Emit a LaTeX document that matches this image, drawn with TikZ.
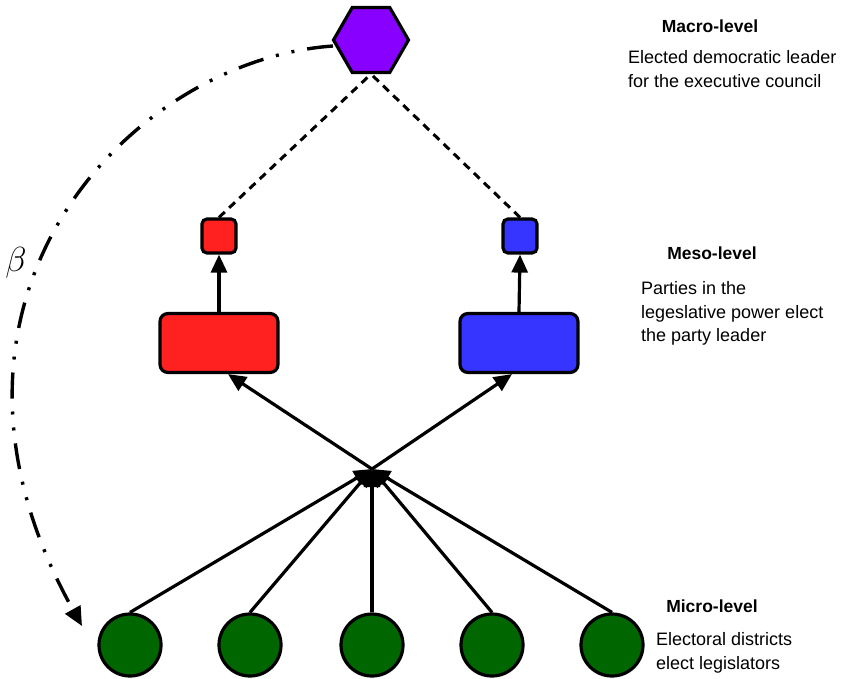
\documentclass[tikz,border=0pt]{standalone}
\usepackage{fontspec}
\setmainfont{Liberation Sans}
\usetikzlibrary{shapes.geometric,arrows.meta}
\definecolor{hexviolet}{HTML}{8800FF}
\definecolor{partyred}{HTML}{FF2020}
\definecolor{partyblue}{HTML}{3535FF}
\definecolor{distgreen}{HTML}{006600}
\begin{document}
\begin{tikzpicture}[x=1pt,y=-1pt,
  hexa/.style={regular polygon,regular polygon sides=6,minimum size=75pt,inner sep=0pt,draw=black,line width=3.2pt,fill=hexviolet},
  smallbox/.style={rectangle,rounded corners=5pt,minimum width=34pt,minimum height=34pt,inner sep=0pt,draw=black,line width=3.2pt},
  bigbox/.style={rectangle,rounded corners=8pt,minimum width=118pt,minimum height=59pt,inner sep=0pt,draw=black,line width=3.2pt},
  district/.style={circle,minimum size=62pt,inner sep=0pt,draw=black,line width=3.2pt,fill=distgreen},
  arr/.style={line width=3.2pt,-{Triangle[length=18pt,width=16pt]}},
  dashline/.style={line width=3pt,dash pattern=on 8pt off 6pt},
  arcline/.style={line width=3.4pt,dash pattern=on 26pt off 13pt on 3pt off 13pt on 3pt off 13pt,-{Triangle[length=19pt,width=17pt]}},
  title/.style={font=\bfseries\fontsize{17.5}{20}\selectfont,anchor=base,inner sep=0pt},
  body/.style={font=\fontsize{18}{24}\selectfont,anchor=base west,inner sep=0pt}
]
\useasboundingbox (0,0) rectangle (864,679);

\node[hexa] (macro) at (371,40) {};
\node[smallbox,fill=partyred] (rs) at (219,236) {};
\node[smallbox,fill=partyblue] (bs) at (520,236) {};
\node[bigbox,fill=partyred] (rb) at (219,343) {};
\node[bigbox,fill=partyblue] (bb) at (519,343) {};
\coordinate (hub) at (372,469);
\foreach \i/\x in {1/130,2/250,3/372,4/492,5/612}
  \node[district] (d\i) at (\x,645) {};

% dashed links to the leader
\draw[dashline] (rs.north) -- (macro.south);
\draw[dashline] (bs.north) -- (macro.south);

% party leader election
\draw[arr] (rb.north) -- (rs.south);
\draw[arr] (bb.north) -- (bs.south);

% hub to parties
\draw[arr] (hub) -- ([xshift=9pt]rb.south);
\draw[arr] (hub) -- ([xshift=-7pt]bb.south);

% districts to hub
\foreach \i in {1,...,5}
  \draw[arr] (d\i.north) -- (hub);

% beta arc
\coordinate (arcstart) at (333,46);
\coordinate (arcend) at (82,626);
\draw[arcline] (arcstart) .. controls (130,60) and (-100,300) .. (arcend);
\node[font=\fontsize{24.88}{30}\selectfont,scale=1.4,inner sep=0pt] (beta) at (16,263) {$\beta$};

% texts
\node[title] (tmacro) at (710,33) {Macro-level};
\node[body] (bmacro1) at (628,64) {Elected democratic leader};
\node[body] (bmacro2) at (628,88) {for the executive council};
\node[title] (tmeso) at (712,259) {Meso-level};
\node[body] (bmeso1) at (641,294) {Parties in the};
\node[body] (bmeso2) at (641,318) {legeslative power elect};
\node[body] (bmeso3) at (641,341) {the party leader};
\node[title] (tmicro) at (712,612) {Micro-level};
\node[body] (bmicro1) at (656,645) {Electoral districts};
\node[body] (bmicro2) at (656,669) {elect legislators};
\end{tikzpicture}
\end{document}
